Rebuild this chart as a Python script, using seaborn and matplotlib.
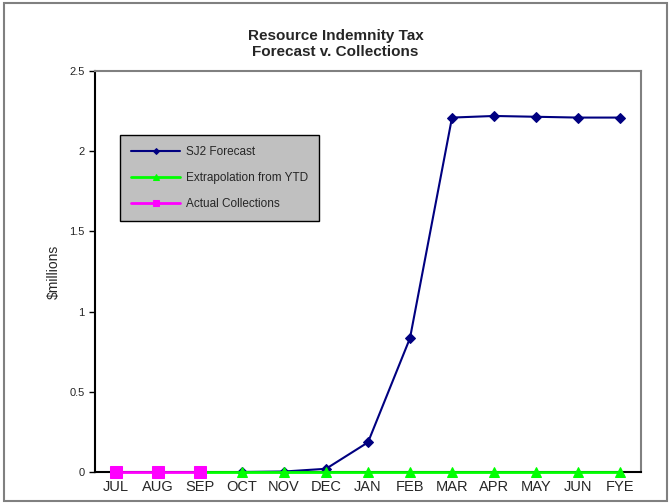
import seaborn as sns
import matplotlib.pyplot as plt
import pandas as pd
import numpy as np

months = ["JUL", "AUG", "SEP", "OCT", "NOV", "DEC", "JAN", "FEB", "MAR", "APR", "MAY", "JUN", "FYE"]
forecast_months = ["OCT", "NOV", "DEC", "JAN", "FEB", "MAR", "APR", "MAY", "JUN", "FYE"]
forecast = [0.0, 0.003, 0.02, 0.185, 0.835, 2.21, 2.22, 2.215, 2.21, 2.21]
extrap_months = ["SEP", "OCT", "NOV", "DEC", "JAN", "FEB", "MAR", "APR", "MAY", "JUN", "FYE"]
extrap = [0.0, 0.0, 0.0, 0.0, 0.0, 0.0, 0.0, 0.0, 0.0, 0.0, 0.0]
actual_months = ["JUL", "AUG", "SEP"]
actual = [0.0, 0.0, 0.0]

pos = {m: i for i, m in enumerate(months)}

sns.set_style("white")
plt.rcParams["font.family"] = ["Liberation Sans", "DejaVu Sans"]

fig = plt.figure(figsize=(6.71, 5.04), dpi=100)
ax = fig.add_axes([0.1416, 0.0635, 0.8137, 0.7955])

df_f = pd.DataFrame({"x": [pos[m] for m in forecast_months], "y": forecast})
df_e = pd.DataFrame({"x": [pos[m] for m in extrap_months], "y": extrap})
df_a = pd.DataFrame({"x": [pos[m] for m in actual_months], "y": actual})

sns.lineplot(data=df_f, x="x", y="y", ax=ax, color="#000080", marker="D", markersize=5,
             markeredgecolor="#000080", linewidth=1.5, label="SJ2 Forecast", clip_on=False, zorder=3)
sns.lineplot(data=df_e.iloc[1:], x="x", y="y", ax=ax, color="#00ff00", marker="^", markersize=7,
             markeredgecolor="#00ff00", linewidth=2, label="Extrapolation from YTD", clip_on=False,
             zorder=4)
sns.lineplot(data=df_e.iloc[:2], x="x", y="y", ax=ax, color="#00ff00", linewidth=2, clip_on=False,
             legend=False, zorder=4)
sns.lineplot(data=df_a, x="x", y="y", ax=ax, color="#ff00ff", marker="s", markersize=8,
             markeredgecolor="#ff00ff", linewidth=2, label="Actual Collections", clip_on=False,
             zorder=5)

ax.set_xlim(-0.5, len(months) - 0.5)
ax.set_ylim(0, 2.5)
ax.set_xticks(range(len(months)))
ax.set_xticklabels(months, fontsize=10.5)
ax.set_xticks(np.arange(-0.5, len(months), 1), minor=True)
ax.tick_params(axis="x", which="major", length=0, pad=6)
ax.tick_params(axis="x", which="minor", length=5, width=1, color="black", direction="inout")
ax.set_yticks([0, 0.5, 1, 1.5, 2, 2.5])
ax.set_yticklabels(["0", "0.5", "1", "1.5", "2", "2.5"], fontsize=8)
ax.tick_params(axis="y", length=4, width=1, color="black", direction="out", left=True)
ax.set_xlabel("")
ax.set_ylabel("$millions", fontsize=10)
ax.yaxis.set_label_coords(-0.062, 0.5)

for side in ["left", "bottom"]:
    ax.spines[side].set_color("black")
    ax.spines[side].set_linewidth(1.5)
for side in ["top", "right"]:
    ax.spines[side].set_color("#808080")
    ax.spines[side].set_linewidth(1.5)

fig.suptitle("Resource Indemnity Tax\nForecast v. Collections", fontsize=11, fontweight="bold",
             y=0.942, linespacing=1.15)

leg = ax.legend(loc="upper left", bbox_to_anchor=(0.046, 0.84), fontsize=8.5, frameon=True,
                fancybox=False, handlelength=4.2, borderpad=0.9, labelspacing=1.2,
                borderaxespad=0, markerscale=0.6, handletextpad=0.5)
leg.get_frame().set_facecolor("#c0c0c0")
leg.get_frame().set_edgecolor("black")
leg.get_frame().set_alpha(1)

border = plt.Rectangle((0.006, 0.006), 0.988, 0.988, transform=fig.transFigure, fill=False,
                       edgecolor="#808080", linewidth=1.5)
fig.patches.append(border)

fig.savefig("out.png", dpi=100)
